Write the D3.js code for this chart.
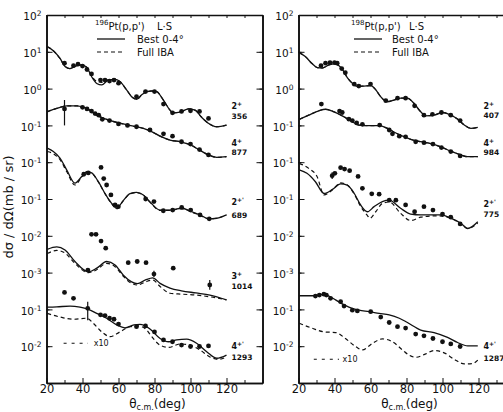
<!DOCTYPE html>
<html><head><meta charset="utf-8">
<script src="https://cdn.jsdelivr.net/npm/d3@7"></script>
<style>body{margin:0;background:#fff}svg{display:block}text{font-family:"DejaVu Sans",sans-serif;fill:#111}</style>
</head><body>
<script>
// ---------- tick labels ----------
const xTickLabels = [20, 40, 60, 80, 100, 120];
const xMinorTicks = [30, 50, 70, 90, 110, 130, 140];
const yTickValues = [1e2, 1e1, 1e0, 1e-1, 1e-2, 1e-3, 1e-4, 1e-5, 1e-6, 1e-7];
const yTickExponents = ["2", "1", "0", "-1", "-1", "-1", "-2", "-3", "-1", "-2"];

// ---------- 196Pt (left panel) : [angle deg, dsigma/dOmega as plotted] ----------
const pt196_356_best = [[20.4,13.8],[23.8,10.7],[27.5,6.6],[30.3,4.0],[33,3.5],[35.8,4.0],[39.6,4.4],[42.3,3.8],[45.1,2.1],[47.9,1.38],[50.7,1.26],[54.3,1.7],[58.1,1.78],[60.8,1.55],[64.6,0.91],[67.3,0.6],[70.1,0.51],[72.9,0.68],[75.7,0.83],[78.4,0.86],[81.2,0.83],[84.9,0.49],[88.6,0.26],[90.4,0.22],[94.2,0.23],[98.8,0.28],[102.5,0.26],[106.2,0.166],[109.9,0.115],[114.6,0.092],[120,0.102]];
const pt196_356_iba = [[20.4,13.8],[23.8,10.7],[27.5,6.6],[30.3,4.0],[33,3.5],[35.8,4.0],[39.6,4.4],[42.3,3.8],[45.1,2.2],[47.9,1.58],[50.7,1.48],[54.3,1.74],[58.1,1.78],[60.8,1.55],[64.6,0.91],[67.3,0.6],[70.1,0.51],[72.9,0.68],[75.7,0.83],[78.4,0.86],[81.2,0.83],[84.9,0.49],[88.6,0.26],[90.4,0.22],[94.2,0.23],[98.8,0.28],[102.5,0.26],[106.2,0.166],[109.9,0.115],[114.6,0.092],[120,0.102]];
const pt196_356_exp = [[30,4.9],[35,4.2],[37.5,4.6],[40,4.1],[42.5,3.3],[45,2.5],[50,1.7],[52.5,1.7],[55,1.6],[57.5,1.7],[60,1.4],[70,0.6],[75,0.83],[80,0.83],[85,0.38],[90,0.22],[95,0.24],[100,0.25],[105,0.24],[110,0.155]];

const pt196_877_best = [[20.4,0.234],[25.7,0.29],[31.2,0.34],[36.8,0.34],[42.3,0.29],[47.9,0.19],[53.4,0.146],[60.8,0.115],[68.2,0.095],[73.8,0.083],[78.4,0.068],[83.1,0.051],[88.6,0.04],[94.2,0.036],[99.7,0.03],[105.3,0.021],[109.9,0.0158],[114.6,0.0135],[120,0.0141]];
const pt196_877_iba = [[20.4,0.236],[25.7,0.29],[31.2,0.34],[36.8,0.34],[42.3,0.29],[47.9,0.19],[53.4,0.146],[60.8,0.115],[68.2,0.095],[73.8,0.083],[78.4,0.068],[83.1,0.051],[88.6,0.04],[94.2,0.036],[99.7,0.03],[105.3,0.021],[109.9,0.0158],[114.6,0.0135],[120,0.0141]];
const pt196_877_exp = [[30,0.28],[40,0.31],[42.5,0.28],[45,0.245],[47,0.21],[49,0.19],[51,0.146],[55,0.135],[60,0.11],[65,0.1],[70,0.092],[77.5,0.075],[85,0.059],[90,0.051],[95,0.036],[100,0.031],[105,0.022],[110,0.0158]];
const pt196_877_err = [[30,0.49,0.10]];

const pt196_689_best = [[20.4,0.024],[23.8,0.0195],[27.5,0.0129],[31.2,0.0062],[35.8,0.0027],[39.6,0.0041],[42.3,0.0055],[45.1,0.0051],[48.8,0.00295],[52.5,0.00141],[56.2,0.00076],[59,0.00056],[62.5,0.00089],[66.4,0.00141],[70.1,0.00151],[73.8,0.00129],[77.5,0.00083],[83.1,0.0005],[88.6,0.0005],[95.1,0.00056],[100.7,0.00045],[105.3,0.00037],[109.9,0.00029],[114.6,0.0003],[120,0.00037]];
const pt196_689_iba = [[20.4,0.0195],[23.8,0.017],[27.5,0.0117],[31.2,0.0056],[35.8,0.0024],[39.6,0.0040],[42.3,0.0054],[45.1,0.0050],[48.8,0.0029],[52.5,0.0014],[56.2,0.00074],[59,0.00054],[62.5,0.00087],[66.4,0.00138],[70.1,0.00148],[73.8,0.00127],[77.5,0.00082],[83.1,0.00049],[88.6,0.00049],[95.1,0.00055],[100.7,0.00044],[105.3,0.00036],[109.9,0.00029],[114.6,0.0003],[120,0.00037]];
const pt196_689_exp = [[40.7,0.0047],[43.2,0.0051],[50.3,0.0072],[51.8,0.0036],[53.4,0.0024],[55.8,0.00129],[58.1,0.00069],[59.9,0.00062],[75.1,0.001],[79.7,0.00085],[84.9,0.00048],[90.1,0.0005],[95.1,0.00059],[100.1,0.0005],[105.3,0.00037],[110.4,0.00029]];

const pt196_1014_best = [[20.4,4.3e-5],[25.7,5.0e-5],[30.3,4.1e-5],[35.8,2.0e-5],[43.2,1.05e-5],[47.9,1.32e-5],[53.4,2.0e-5],[58.1,1.62e-5],[62.7,8.5e-6],[67.3,5.6e-6],[70.5,5.0e-6],[75,6.3e-6],[79,7.2e-6],[83.1,5.1e-6],[88.6,3.8e-6],[95,3.2e-6],[103,2.8e-6],[110.8,2.45e-6],[120,1.82e-6]];
const pt196_1014_iba = [[20.4,3.3e-5],[25.7,4.0e-5],[30.3,3.4e-5],[35.8,1.78e-5],[43.2,1.0e-5],[47.9,1.2e-5],[53.4,1.78e-5],[58.1,1.45e-5],[62.7,7.9e-6],[67.3,5.1e-6],[70.5,4.6e-6],[75,5.6e-6],[79,6.3e-6],[83.1,4.2e-6],[88.6,2.75e-6],[95,2.6e-6],[103,2.45e-6],[110.8,2.2e-6],[120,1.82e-6]];
const pt196_1014_exp = [[43,1.17e-5],[45,1.1e-4],[47.5,1.1e-4],[50.3,7.2e-5],[52.9,4.6e-5],[65.4,1.86e-5],[70.4,2.0e-5],[75.3,1.86e-5],[79.7,9.1e-6],[90.4,1.32e-5],[110.7,4.6e-6]];
const pt196_1014_err = [[79.7,1.12e-5,7.6e-6],[110.7,6.3e-6,3.4e-6]];

const pt196_1293_best = [[20.4,1.15e-6],[25.7,1.17e-6],[33.1,1.23e-6],[38.6,1.15e-6],[43.2,1.0e-6],[47.9,7.8e-7],[53.4,5.75e-7],[59,3.8e-7],[63.6,3.16e-7],[68.6,3.8e-7],[71.9,3.9e-7],[77.5,2.95e-7],[83.1,1.62e-7],[87.9,1.32e-7],[92.3,1.48e-7],[97.9,1.55e-7],[103.4,1.2e-7],[109,7.1e-8],[114.6,4.7e-8],[120,5.75e-8]];
const pt196_1293_iba = [[20.4,7.8e-7],[27.5,6.2e-7],[34.9,5.4e-7],[42.3,5.75e-7],[46,4.2e-7],[50.7,2.45e-7],[55.3,1.82e-7],[60.8,2.45e-7],[66.4,3.4e-7],[71,3.55e-7],[75.7,2.75e-7],[77.5,2.1e-7],[83.1,1.07e-7],[87.9,9.3e-8],[94.2,1.15e-7],[99.7,1.07e-7],[105.3,7.9e-8],[110.8,5.1e-8],[115.4,4.4e-8],[120,5.1e-8]];
const pt196_1293_exp = [[30,2.9e-6],[35,2.0e-6],[42.9,1.07e-6],[50,7.1e-7],[52.5,6.8e-7],[55,5.75e-7],[57.5,5.4e-7],[60,4.0e-7],[70,3.4e-7],[75,3.55e-7],[80,2.45e-7],[85,1.48e-7],[90,1.32e-7],[95,1.07e-7],[100,9.8e-8],[105,9.8e-8],[110,1.02e-7]];
const pt196_1293_err = [[42.9,1.62e-6,5.1e-7]];

// ---------- 198Pt (right panel) ----------
const pt198_407_best = [[20.4,9.5],[23.8,7.4],[27.5,4.8],[30.5,3.7],[33,3.6],[36.9,4.4],[40,4.7],[42.5,4.2],[44.3,3.4],[47.1,2.0],[49.9,1.4],[52.7,1.15],[56.4,1.17],[60.1,1.2],[62.9,0.93],[65.7,0.6],[69.4,0.44],[73.2,0.49],[76.9,0.55],[80.4,0.55],[84.1,0.4],[87.9,0.234],[90.7,0.182],[95.3,0.19],[100,0.224],[104.6,0.19],[108.4,0.148],[112.1,0.102],[115.8,0.083],[119.6,0.089]];
const pt198_407_iba = [[20.4,9.5],[23.8,7.4],[27.5,4.8],[30.5,3.7],[33,3.6],[36.9,4.4],[40,4.7],[42.5,4.2],[44.3,3.4],[47.1,2.0],[49.9,1.4],[52.7,1.15],[56.4,1.17],[60.1,1.2],[62.9,0.93],[65.7,0.6],[69.4,0.44],[73.2,0.49],[76.9,0.55],[80.4,0.55],[84.1,0.4],[87.9,0.234],[90.7,0.182],[95.3,0.19],[100,0.224],[104.6,0.19],[108.4,0.148],[112.1,0.102],[115.8,0.083],[119.6,0.089]];
const pt198_407_exp = [[32.5,4.2],[35,4.9],[37.5,5.1],[40,5.1],[41.5,4.9],[44,3.5],[46,2.7],[51,1.32],[53.5,1.17],[60,1.33],[68.5,0.47],[75,0.55],[79.5,0.55],[84.5,0.34],[89.7,0.19],[94.4,0.2],[99.4,0.224],[104.6,0.19],[109.8,0.135]];

const pt198_984_best = [[20.4,0.146],[25.7,0.19],[31.3,0.25],[35,0.275],[39.7,0.234],[44.3,0.182],[48.9,0.135],[53.6,0.102],[59.2,0.098],[64.8,0.098],[69.4,0.083],[74.1,0.062],[78.8,0.049],[82.3,0.042],[87.9,0.036],[93.5,0.032],[99.1,0.026],[104.6,0.02],[110.2,0.0158],[114,0.0141],[119.6,0.0141]];
const pt198_984_iba = [[20.4,0.146],[25.7,0.19],[31.3,0.25],[35,0.275],[39.7,0.234],[44.3,0.182],[48.9,0.135],[53.6,0.102],[59.2,0.098],[64.8,0.098],[69.4,0.083],[74.1,0.062],[78.8,0.049],[82.3,0.042],[87.9,0.036],[93.5,0.032],[99.1,0.026],[104.6,0.02],[110.2,0.0158],[114,0.0141],[119.6,0.0141]];
const pt198_984_exp = [[32.7,0.38],[42.8,0.245],[44.3,0.224],[48,0.148],[49.9,0.135],[52.3,0.117],[55.5,0.107],[65.1,0.102],[70.4,0.075],[72.2,0.059],[76,0.051],[79.5,0.049],[85.1,0.036],[89.7,0.034],[94.7,0.031],[99.4,0.025],[104.6,0.0195],[109.8,0.0148]];

const pt198_775_best = [[20.4,0.0062],[24.7,0.005],[29.4,0.00295],[34.2,0.00141],[38.9,0.00182],[43.4,0.00257],[47.1,0.0024],[51,0.00141],[54.5,0.00069],[58.3,0.00045],[62,0.00062],[66.6,0.00085],[70.4,0.00093],[76.7,0.00056],[82.3,0.00039],[87.9,0.00037],[93.5,0.00037],[99.1,0.00037],[104.6,0.0003],[110.2,0.00022],[114,0.000158],[119.6,0.00024]];
const pt198_775_iba = [[20.4,0.0093],[25.7,0.0068],[30.3,0.0041],[34.2,0.00129],[38.9,0.00178],[43.4,0.00275],[47.1,0.0024],[51,0.00135],[54.5,0.00063],[58.3,0.000355],[59.6,0.0003],[62.9,0.00045],[66.6,0.00076],[70.4,0.00083],[76.7,0.00041],[82.3,0.00026],[87.9,0.00032],[97.2,0.00035],[104.6,0.0003],[110.2,0.00021],[114,0.000158],[119.6,0.00022]];
const pt198_775_exp = [[38.7,0.0043],[40.2,0.005],[43.4,0.0071],[45.6,0.0065],[48.4,0.0059],[53.1,0.0041],[55.5,0.00195],[60.7,0.00138],[64.8,0.00135],[70.4,0.00093],[74.1,0.00093],[79.5,0.00069],[84.5,0.00045],[89.7,0.00062],[94.7,0.0005],[100,0.00039],[104.6,0.00032],[109.8,0.00021]];
const pt198_775_err = [[38.7,0.0053,0.0035]];

const pt198_1287_best = [[20.4,2.35e-6],[29.4,2.35e-6],[34.1,2.6e-6],[36.9,2.3e-6],[40.6,1.82e-6],[44.3,1.41e-6],[48,1.15e-6],[53.6,9.5e-7],[59.2,8.7e-7],[64.8,7.8e-7],[70.4,7.1e-7],[76,5.75e-7],[80.5,4.4e-7],[87.9,2.75e-7],[95.3,2.35e-7],[102.8,1.74e-7],[108.4,1.26e-7],[114,1.02e-7],[119.6,1.02e-7]];
const pt198_1287_iba = [[20.4,4.2e-7],[27.5,3.1e-7],[34.1,2.45e-7],[40.6,2.35e-7],[46.1,1.62e-7],[51.7,9.8e-8],[55.5,7.9e-8],[61.1,1.2e-7],[66.6,1.58e-7],[72.2,1.32e-7],[77.8,7.9e-8],[81.3,5.75e-8],[85.1,5.0e-8],[90.7,6.2e-8],[95.3,7.6e-8],[100.9,6.6e-8],[106.5,4.4e-8],[112.1,3.3e-8],[116.8,3.4e-8],[119.6,4.2e-8]];
const pt198_1287_exp = [[29.4,2.3e-6],[31.6,2.45e-6],[34.1,2.6e-6],[35.5,2.45e-6],[37.8,2.0e-6],[43.4,1.62e-6],[45.3,1.23e-6],[49.9,9.5e-7],[52.7,9.1e-7],[60.1,8.7e-7],[65.7,6.2e-7],[70.4,4.4e-7],[75,3.4e-7],[79.5,3.1e-7],[85.1,2.14e-7],[89.7,1.91e-7],[94.7,1.62e-7],[100,1.32e-7],[104.6,1.15e-7],[109.8,9.8e-8]];

// ---------- layout ----------
const W = 503, H = 412;
const svg = d3.select("body").append("svg").attr("width", W).attr("height", H);
const y = d3.scaleLog().domain([1e-8, 1e2]).range([383, 15]);

const panels = [
  {x0: 46.5, nucleus: "196", title: 95, titleLS: 157, legLine: 97, legText: 137, rightAxis: true,
   x10: [29.5, 43, 1.2e-7, 46.2],
   curves: [
     {best: pt196_356_best, iba: pt196_356_iba, exp: pt196_356_exp, err: [], j: "2", jp: "+", e: "356", ly: [106, 116]},
     {best: pt196_877_best, iba: pt196_877_iba, exp: pt196_877_exp, err: pt196_877_err, j: "4", jp: "+", e: "877", ly: [143, 152]},
     {best: pt196_689_best, iba: pt196_689_iba, exp: pt196_689_exp, err: [], j: "2", jp: "+'", e: "689", ly: [202, 215]},
     {best: pt196_1014_best, iba: pt196_1014_iba, exp: pt196_1014_exp, err: pt196_1014_err, j: "3", jp: "+", e: "1014", ly: [276, 286]},
     {best: pt196_1293_best, iba: pt196_1293_iba, exp: pt196_1293_exp, err: pt196_1293_err, j: "4", jp: "+'", e: "1293", ly: [346, 357]}
   ]},
  {x0: 298.5, nucleus: "198", title: 351, titleLS: 409, legLine: 354, legText: 392, rightAxis: false,
   x10: [28.5, 42.5, 4.4e-8, 44.5],
   curves: [
     {best: pt198_407_best, iba: pt198_407_iba, exp: pt198_407_exp, err: [], j: "2", jp: "+", e: "407", ly: [106, 115]},
     {best: pt198_984_best, iba: pt198_984_iba, exp: pt198_984_exp, err: [], j: "4", jp: "+", e: "984", ly: [143, 152]},
     {best: pt198_775_best, iba: pt198_775_iba, exp: pt198_775_exp, err: pt198_775_err, j: "2", jp: "+'", e: "775", ly: [204, 214]},
     {best: pt198_1287_best, iba: pt198_1287_iba, exp: pt198_1287_exp, err: [], j: "4", jp: "+'", e: "1287", ly: [346, 358]}
   ]}
];

panels.forEach((p) => {
  const x = d3.scaleLinear().domain([20, 140]).range([p.x0, p.x0 + 216]);
  const g = svg.append("g");
  const line = d3.line().x(d => x(d[0])).y(d => y(d[1])).curve(d3.curveMonotoneX);

  // axes
  const minorY = y.ticks();
  g.append("g").attr("transform", `translate(${p.x0},0)`)
    .call(d3.axisLeft(y).tickValues(minorY).tickSize(-3).tickSizeOuter(0).tickFormat(""));
  const axLM = g.append("g").attr("transform", `translate(${p.x0},0)`);
  axLM.call(d3.axisLeft(y).tickValues(yTickValues).tickSize(-6).tickSizeOuter(0).tickPadding(5));
  axLM.selectAll(".tick text").each(function(d, i) {
    const t = d3.select(this).text("10").attr("font-size", 10.5).attr("font-family", "DejaVu Sans").attr("fill", "#111").attr("dy", "0.45em");
    t.append("tspan").attr("dy", "-0.55em").attr("font-size", 7.5).text(yTickExponents[i]);
  });
  if (p.rightAxis) {
    g.append("g").attr("transform", `translate(${p.x0 + 216},0)`)
      .call(d3.axisRight(y).tickValues(minorY).tickSize(-3).tickSizeOuter(0).tickFormat(""));
    g.append("g").attr("transform", `translate(${p.x0 + 216},0)`)
      .call(d3.axisRight(y).tickValues(yTickValues).tickSize(-6).tickSizeOuter(0).tickFormat(""));
  }
  const axB = g.append("g").attr("transform", "translate(0,383)");
  axB.call(d3.axisBottom(x).tickValues(xTickLabels).tickSize(-5).tickSizeOuter(0).tickPadding(2));
  axB.selectAll(".tick text").attr("font-size", 11.5).attr("font-family", "DejaVu Sans").attr("fill", "#111");
  g.append("g").attr("transform", "translate(0,383)")
    .call(d3.axisBottom(x).tickValues(xMinorTicks).tickSize(-3).tickSizeOuter(0).tickFormat(""));
  g.append("g").attr("transform", "translate(0,15)")
    .call(d3.axisTop(x).tickValues(xTickLabels.concat(xMinorTicks)).tickSize(-3).tickSizeOuter(0).tickFormat(""));
  g.selectAll(".domain").attr("stroke", "#111").attr("stroke-width", 1.6);
  g.selectAll(".tick line").attr("stroke", "#111").attr("stroke-width", 1);

  // curves
  p.curves.forEach((c) => {
    g.append("path").attr("d", line(c.iba)).attr("fill", "none").attr("stroke", "#111")
      .attr("stroke-width", 1.2).attr("stroke-dasharray", "4,3");
    g.append("path").attr("d", line(c.best)).attr("fill", "none").attr("stroke", "#111").attr("stroke-width", 1.3);
    g.selectAll(null).data(c.err).enter().append("line")
      .attr("x1", d => x(d[0])).attr("x2", d => x(d[0]))
      .attr("y1", d => y(d[1])).attr("y2", d => y(d[2])).attr("stroke", "#111").attr("stroke-width", 1.2);
    g.selectAll(null).data(c.exp).enter().append("circle")
      .attr("cx", d => x(d[0])).attr("cy", d => y(d[1])).attr("r", 2.4).attr("fill", "#111");
    // state labels
    const lx = p.x0 + 185;
    const t1 = g.append("text").attr("x", lx).attr("y", c.ly[0] + 3).attr("font-size", 8).attr("font-weight", "bold")
      .text(c.j);
    t1.append("tspan").attr("dy", -3).attr("font-size", 6).text(c.jp);
    g.append("text").attr("x", lx).attr("y", c.ly[1] + 3).attr("font-size", 7.5).attr("font-weight", "bold").text(c.e);
  });

  // x10 annotation
  g.append("line").attr("x1", x(p.x10[0])).attr("x2", x(p.x10[1])).attr("y1", y(p.x10[2])).attr("y2", y(p.x10[2]))
    .attr("stroke", "#111").attr("stroke-width", 1.1).attr("stroke-dasharray", "3,5");
  g.append("text").attr("x", x(p.x10[3])).attr("y", y(p.x10[2]) + 3).attr("font-size", 8).text("x10");

  // title & legend
  const tt = g.append("text").attr("x", p.title).attr("y", 30).attr("font-size", 10);
  tt.append("tspan").attr("font-size", 7).attr("dy", -5).text(p.nucleus);
  tt.append("tspan").attr("dy", 5).text("Pt(p,p')");
  g.append("text").attr("x", p.titleLS).attr("y", 30).attr("font-size", 10).text("L·S");
  g.append("line").attr("x1", p.legLine).attr("x2", p.legLine + 28).attr("y1", 39).attr("y2", 39)
    .attr("stroke", "#111").attr("stroke-width", 1.3);
  g.append("text").attr("x", p.legText).attr("y", 43).attr("font-size", 10).text("Best 0-4°");
  g.append("line").attr("x1", p.legLine).attr("x2", p.legLine + 28).attr("y1", 52).attr("y2", 52)
    .attr("stroke", "#111").attr("stroke-width", 1.2).attr("stroke-dasharray", "4,3");
  g.append("text").attr("x", p.legText).attr("y", 56).attr("font-size", 10).text("Full IBA");

  // x axis title
  const xt = g.append("text").attr("x", p.x0 + 111).attr("y", 408).attr("text-anchor", "middle").attr("font-size", 12);
  xt.append("tspan").text("θ");
  xt.append("tspan").attr("font-size", 8).attr("dy", 1.5).text("c.m.");
  xt.append("tspan").attr("dy", -1.5).text("(deg)");
});

// y axis title
svg.append("text").attr("transform", "translate(13,207) rotate(-90)").attr("text-anchor", "middle")
  .attr("font-size", 13).text("dσ / dΩ(mb / sr)");
</script>
</body></html>
